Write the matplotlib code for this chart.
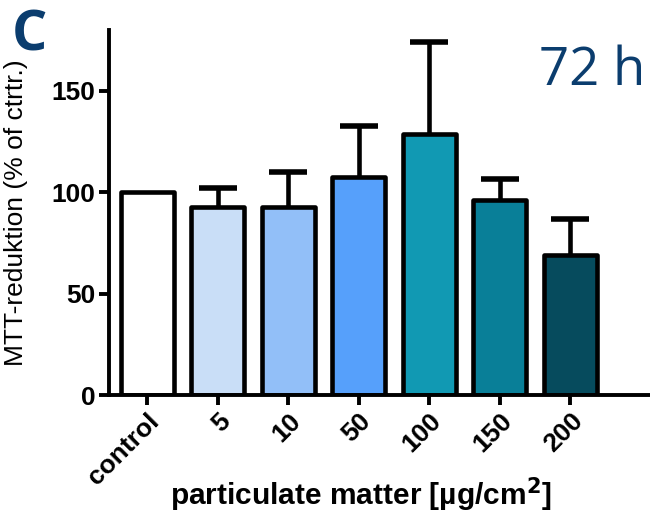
import matplotlib
matplotlib.use("Agg")
import matplotlib.pyplot as plt

# Data
categories = ['control', '5', '10', '50', '100', '150', '200']
means = [100, 92.5, 92.5, 107.7, 128.9, 96, 68.9]
errors = [0, 9.8, 17.5, 25.1, 45.1, 10.7, 18.1]
colors = ['#FFFFFF', '#C9DEF7', '#92BFF8', '#56A0FB', '#1199B3', '#097F98', '#064B5D']

plt.rcParams['font.family'] = ['Liberation Sans', 'DejaVu Sans']

fig = plt.figure(figsize=(6.5, 5.14), dpi=100)
ax = fig.add_axes([0.168, 0.2315, 0.832, 0.71])

x = list(range(len(categories)))
bars = ax.bar(x, means, width=0.75, color=colors, edgecolor='black', linewidth=3.3, zorder=2)
for b in bars:
    b.set_joinstyle('round')

# only upper error bars, skip bars without error
idx = [i for i in x if errors[i] > 0]
eb = ax.errorbar([x[i] for i in idx], [means[i] for i in idx],
                 yerr=[[0] * len(idx), [errors[i] for i in idx]], fmt='none',
                 ecolor='black', elinewidth=3.3, capsize=14, capthick=4, zorder=1)
eb[1][0].set_visible(False)  # lower caps

ax.set_xlim(-0.54, 7.13)
ax.set_ylim(0, 180)
ax.set_yticks([0, 50, 100, 150])
ax.set_xticks(x)
ax.set_xticklabels(categories, rotation=45, ha='right', rotation_mode='anchor',
                   fontsize=19, fontweight='bold')
for lab in ax.get_yticklabels():
    lab.set_fontsize(19)
    lab.set_fontweight('bold')

for side in ['top', 'right']:
    ax.spines[side].set_visible(False)
for side in ['left', 'bottom']:
    ax.spines[side].set_linewidth(2.8)
ax.tick_params(axis='both', width=2.8, length=7, pad=3)

ax.set_ylabel('MTT-reduktion (% of ctrtr.)', fontsize=19)
ax.yaxis.set_label_coords(-0.15, 0.5)
fig.text(0.555, 0.037, 'particulate matter [µg/cm$^\\mathbf{2}$]', ha='center', va='center',
         fontsize=21.5, fontweight='bold')

fig.text(0.018, 0.93, 'C', fontsize=40, fontweight='bold', color='#0B3D6E',
         family=['Open Sans', 'DejaVu Sans'], va='center')
fig.text(0.992, 0.862, '72 h', fontsize=38, color='#0B3D6E', ha='right', va='center',
         family=['Open Sans', 'DejaVu Sans'])

fig.savefig('out.png', dpi=100)
